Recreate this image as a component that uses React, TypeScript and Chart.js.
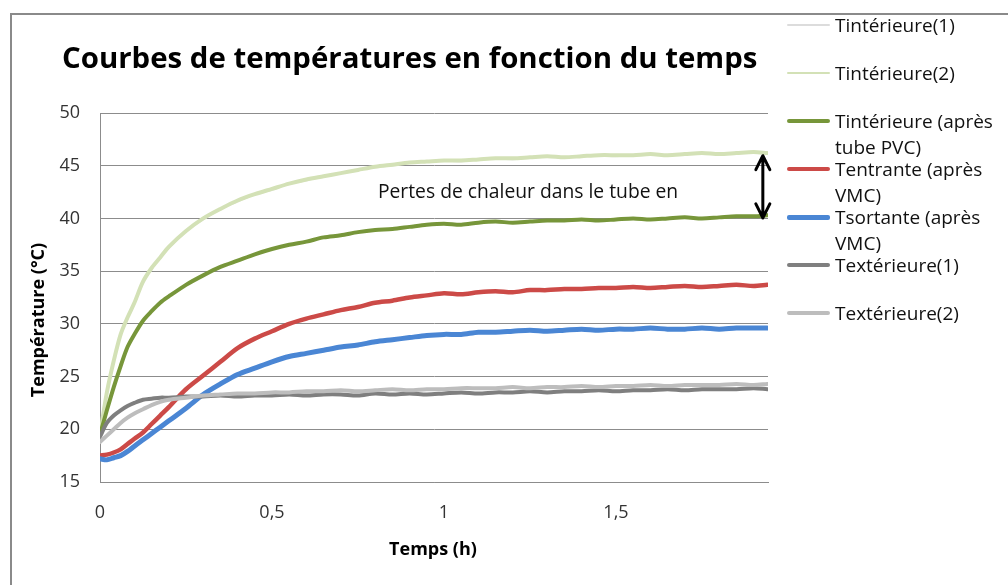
import React, { useEffect, useRef } from "react";
import { Chart, registerables } from "chart.js";

Chart.register(...registerables);

// ---- Data ----
const timeHours = [
  0, 0.02, 0.04, 0.06, 0.08, 0.1, 0.125, 0.15, 0.175, 0.2, 0.25, 0.3, 0.35, 0.4, 0.45,
  0.5, 0.55, 0.6, 0.65, 0.7, 0.75, 0.8, 0.85, 0.9, 0.95, 1.0, 1.05, 1.1, 1.15, 1.2,
  1.25, 1.3, 1.35, 1.4, 1.45, 1.5, 1.55, 1.6, 1.65, 1.7, 1.75, 1.8, 1.85, 1.9, 1.94,
];

const tInterieure1 = [
  19.5, 23.4, 26.4, 28.9, 30.5, 32.0, 33.9, 35.2, 36.3, 37.2, 38.8, 39.9, 40.9, 41.6, 42.3,
  42.7, 43.3, 43.6, 44.0, 44.3, 44.6, 44.9, 45.0, 45.3, 45.4, 45.5, 45.4, 45.6, 45.7, 45.6,
  45.8, 45.9, 45.8, 45.9, 46.0, 45.9, 46.0, 46.1, 46.0, 46.1, 46.2, 46.1, 46.2, 46.3, 46.2,
];

const tInterieure2 = [
  19.5, 23.5, 26.5, 29.0, 30.6, 32.0, 34.0, 35.3, 36.3, 37.3, 38.8, 40.0, 40.9, 41.7, 42.3,
  42.8, 43.3, 43.7, 44.0, 44.3, 44.6, 44.9, 45.1, 45.3, 45.4, 45.5, 45.5, 45.6, 45.7, 45.7,
  45.8, 45.9, 45.8, 45.9, 46.0, 46.0, 46.0, 46.1, 46.0, 46.1, 46.2, 46.1, 46.2, 46.3, 46.2,
];

const tInterieureApresTube = [
  19.5, 21.8, 24.0, 26.0, 27.8, 29.0, 30.3, 31.2, 32.0, 32.6, 33.7, 34.6, 35.4, 36.0, 36.6,
  37.1, 37.5, 37.8, 38.2, 38.4, 38.7, 38.9, 39.0, 39.2, 39.4, 39.5, 39.4, 39.6, 39.7, 39.6,
  39.7, 39.8, 39.8, 39.9, 39.8, 39.9, 40.0, 39.9, 40.0, 40.1, 40.0, 40.1, 40.2, 40.2, 40.3,
];

const tEntrante = [
  17.5, 17.6, 17.8, 18.1, 18.6, 19.1, 19.7, 20.5, 21.3, 22.1, 23.8, 25.1, 26.4, 27.7, 28.6,
  29.3, 30.0, 30.5, 30.9, 31.3, 31.6, 32.0, 32.2, 32.5, 32.7, 32.9, 32.8, 33.0, 33.1, 33.0,
  33.2, 33.2, 33.3, 33.3, 33.4, 33.4, 33.5, 33.4, 33.5, 33.6, 33.5, 33.6, 33.7, 33.6, 33.7,
];

const tSortante = [
  17.2, 17.1, 17.3, 17.5, 17.9, 18.4, 19.0, 19.6, 20.2, 20.8, 22.0, 23.3, 24.3, 25.2, 25.8,
  26.4, 26.9, 27.2, 27.5, 27.8, 28.0, 28.3, 28.5, 28.7, 28.9, 29.0, 29.0, 29.2, 29.2, 29.3,
  29.4, 29.3, 29.4, 29.5, 29.4, 29.5, 29.5, 29.6, 29.5, 29.5, 29.6, 29.5, 29.6, 29.6, 29.6,
];

const tExterieure1 = [
  19.3, 20.6, 21.3, 21.8, 22.2, 22.5, 22.8, 22.9, 23.0, 23.0, 23.1, 23.1, 23.2, 23.1, 23.2,
  23.2, 23.3, 23.2, 23.3, 23.3, 23.2, 23.4, 23.3, 23.4, 23.3, 23.4, 23.5, 23.4, 23.5, 23.5,
  23.6, 23.5, 23.6, 23.6, 23.7, 23.6, 23.7, 23.7, 23.8, 23.7, 23.8, 23.8, 23.8, 23.9, 23.8,
];

const tExterieure2 = [
  18.8, 19.4, 20.0, 20.6, 21.1, 21.5, 21.9, 22.3, 22.6, 22.8, 23.0, 23.2, 23.3, 23.4, 23.4,
  23.5, 23.5, 23.6, 23.6, 23.7, 23.6, 23.7, 23.8, 23.7, 23.8, 23.8, 23.9, 23.9, 23.9, 24.0,
  23.9, 24.0, 24.0, 24.1, 24.0, 24.1, 24.1, 24.2, 24.1, 24.2, 24.2, 24.2, 24.3, 24.2, 24.3,
];

const seriesLabels = [
  "Tintérieure(1)",
  "Tintérieure(2)",
  "Tintérieure (après tube PVC)",
  "Tentrante (après VMC)",
  "Tsortante (après VMC)",
  "Textérieure(1)",
  "Textérieure(2)",
];

const xTickValues = [0, 0.5, 1, 1.5];
const yTickValues = [15, 20, 25, 30, 35, 40, 45, 50];
const xMax = 1.942;

const chartTitle = "Courbes de températures en fonction du temps";
const xAxisTitle = "Temps (h)";
const yAxisTitle = "Température (°C)";

const annotationText = "Pertes de chaleur dans le tube en";
const annotationTextTime = 0.808;
const annotationTextTemp = 42.45;
const arrowTime = 1.927;
const arrowTopTemp = 45.95;
const arrowBottomTemp = 40.05;

// ---- Styles ----
const seriesValues = [
  tInterieure1,
  tInterieure2,
  tInterieureApresTube,
  tEntrante,
  tSortante,
  tExterieure1,
  tExterieure2,
];
const seriesColors = ["#e9e9e9", "#d3e1b6", "#77963a", "#cc4a47", "#4a86d4", "#7f7f7f", "#bdbdbd"];
const seriesWidths = [2, 4, 4, 4.5, 5, 4, 4];
const legendWidths = [2, 2.5, 4, 4, 5, 4, 4];

const FONT = "'Open Sans', Lato, sans-serif";

const annotationPlugin = {
  id: "heatLossAnnotation",
  afterDatasetsDraw(chart: any) {
    const { ctx, scales } = chart;
    const x = scales.x;
    const y = scales.y;
    ctx.save();
    ctx.font = `19.3px ${FONT}`;
    ctx.fillStyle = "#111";
    ctx.textBaseline = "middle";
    ctx.textAlign = "left";
    ctx.fillText(annotationText, x.getPixelForValue(annotationTextTime), y.getPixelForValue(annotationTextTemp));

    const ax = x.getPixelForValue(arrowTime);
    const y1 = y.getPixelForValue(arrowTopTemp);
    const y2 = y.getPixelForValue(arrowBottomTemp);
    ctx.strokeStyle = "#000";
    ctx.lineWidth = 3;
    ctx.lineCap = "round";
    ctx.lineJoin = "round";
    ctx.beginPath();
    ctx.moveTo(ax, y1);
    ctx.lineTo(ax, y2);
    ctx.moveTo(ax - 7, y1 + 14);
    ctx.lineTo(ax, y1);
    ctx.lineTo(ax + 7, y1 + 14);
    ctx.moveTo(ax - 7, y2 - 14);
    ctx.lineTo(ax, y2);
    ctx.lineTo(ax + 7, y2 - 14);
    ctx.stroke();
    ctx.restore();
  },
};

export default function App() {
  const canvasRef = useRef<HTMLCanvasElement | null>(null);

  useEffect(() => {
    if (!canvasRef.current) return;
    const n = seriesLabels.length;
    const datasets = seriesLabels.map((label, i) => ({
      label,
      data: timeHours.map((t, k) => ({ x: t, y: seriesValues[i][k] })),
      borderColor: seriesColors[i],
      backgroundColor: seriesColors[i],
      borderWidth: seriesWidths[i],
      pointRadius: 0,
      tension: 0.3,
      borderJoinStyle: "round" as const,
      borderCapStyle: "round" as const,
      fill: false,
      order: n - i,
    }));

    const chart = new Chart(canvasRef.current, {
      type: "line",
      data: { datasets },
      options: {
        animation: false,
        responsive: false,
        devicePixelRatio: 1,
        layout: { padding: { left: 0, top: 113, right: 240, bottom: 0 } },
        plugins: {
          legend: { display: false },
          tooltip: { enabled: false },
          title: { display: false },
        },
        scales: {
          x: {
            type: "linear",
            min: 0,
            max: xMax,
            afterBuildTicks: (scale: any) => {
              scale.ticks = xTickValues.map((v) => ({ value: v }));
            },
            afterFit: (scale: any) => {
              scale.height = 103;
            },
            grid: { display: false, drawTicks: false },
            border: { display: true, color: "#8c8c8c", width: 1 },
            ticks: {
              padding: 20,
              color: "#333",
              font: { family: FONT, size: 18 },
              callback: (v: any) => String(v).replace(".", ","),
            },
          },
          y: {
            type: "linear",
            min: 15,
            max: 50,
            afterBuildTicks: (scale: any) => {
              scale.ticks = yTickValues.map((v) => ({ value: v }));
            },
            afterFit: (scale: any) => {
              scale.width = 100;
            },
            grid: { display: true, color: "#8c8c8c", lineWidth: 1, drawTicks: false },
            border: { display: true, color: "#8c8c8c", width: 1 },
            ticks: {
              padding: 20,
              color: "#333",
              font: { family: FONT, size: 18 },
            },
          },
        },
      },
      plugins: [annotationPlugin],
    });
    return () => chart.destroy();
  }, []);

  return (
    <div
      style={{
        position: "fixed",
        left: 0,
        top: 0,
        width: 1008,
        height: 585,
        overflow: "hidden",
        background: "#fff",
        fontFamily: FONT,
      }}
    >
      <div
        style={{
          position: "absolute",
          left: 10,
          top: 13,
          width: 1100,
          height: 700,
          border: "2px solid #8a8a8a",
          boxSizing: "border-box",
        }}
      />
      <canvas
        ref={canvasRef}
        width={1008}
        height={585}
        style={{ position: "absolute", left: 0, top: 0, width: 1008, height: 585 }}
      />
      <div
        style={{
          position: "absolute",
          left: 62,
          top: 37,
          fontSize: 29.4,
          fontWeight: 700,
          lineHeight: "40px",
          color: "#000",
          whiteSpace: "nowrap",
        }}
      >
        {chartTitle}
      </div>
      <div
        style={{
          position: "absolute",
          left: 333,
          width: 200,
          top: 537,
          textAlign: "center",
          fontSize: 18,
          fontWeight: 700,
          lineHeight: "22px",
          color: "#000",
        }}
      >
        {xAxisTitle}
      </div>
      <div
        style={{
          position: "absolute",
          left: 37 - 100,
          top: 320 - 11,
          width: 200,
          textAlign: "center",
          fontSize: 18,
          fontWeight: 700,
          lineHeight: "22px",
          color: "#000",
          transform: "rotate(-90deg)",
          transformOrigin: "100px 11px",
        }}
      >
        {yAxisTitle}
      </div>
      <div style={{ position: "absolute", left: 787, top: 12 }}>
        {seriesLabels.map((label, i) => (
          <div key={label} style={{ display: "flex", alignItems: "flex-start", height: 48 }}>
            <div
              style={{
                width: 43,
                height: legendWidths[i],
                marginTop: (26 - legendWidths[i]) / 2,
                background: seriesColors[i] === "#e9e9e9" ? "#dcdcdc" : seriesColors[i],
                marginRight: 5,
                flex: "none",
                borderRadius: 2,
              }}
            />
            <div style={{ width: 172, fontSize: 19, lineHeight: "26px", color: "#111" }}>{label}</div>
          </div>
        ))}
      </div>
    </div>
  );
}
